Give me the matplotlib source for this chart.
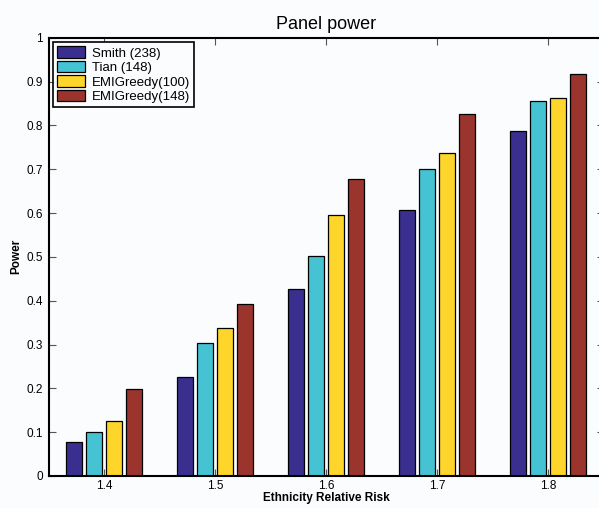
import numpy as np
import matplotlib.pyplot as plt

# MARK:- data
risk = [1.4, 1.5, 1.6, 1.7, 1.8]
smith = [0.077, 0.225, 0.426, 0.606, 0.786]
tian = [0.100, 0.303, 0.503, 0.700, 0.855]
emi100 = [0.125, 0.337, 0.596, 0.738, 0.862]
emi148 = [0.198, 0.392, 0.677, 0.826, 0.917]
labels = ["Smith (238)", "Tian (148)", "EMIGreedy(100)", "EMIGreedy(148)"]
colors = ["#3a2f8f", "#45c3d2", "#fed52b", "#9a342c"]

plt.rcParams['font.family'] = ['Liberation Sans', 'DejaVu Sans']
bg = "#fbfcfe"

# MARK:- plot
fig = plt.figure(figsize=(5.99, 5.08), dpi=100, facecolor=bg)
ax = fig.add_axes([48.5 / 599, 32 / 508, 555 / 599, 438.3 / 508])
ax.set_facecolor(bg)

x = np.array(risk)
step = 0.018
width = 0.015
for i, (vals, lab, c) in enumerate(zip([smith, tian, emi100, emi148], labels, colors)):
    ax.bar(x + (i - 1.5) * step, vals, width, color=c, edgecolor="black",
           linewidth=0.9, label=lab)

ax.set_xlim(1.35, 1.85)
ax.set_ylim(0, 1)
ax.set_xticks(risk)
ax.set_xticklabels([str(r) for r in risk])
ax.set_yticks(np.arange(0, 1.01, 0.1))
ax.set_yticklabels(["0"] + ["%.1f" % v for v in np.arange(0.1, 0.95, 0.1)] + ["1"])
ax.tick_params(direction="in", length=5, width=0.8, color="#555555",
               top=True, right=True, labelsize=8.5, pad=4)
ax.tick_params(axis="x", pad=3)
for s in ax.spines.values():
    s.set_linewidth(1.5)

ax.set_title("Panel power", fontsize=13, pad=6)
ax.set_xlabel("Ethnicity Relative Risk", fontsize=8.5, fontweight="bold", labelpad=0)
ax.set_ylabel("Power", fontsize=8.5, fontweight="bold", labelpad=3)

leg = ax.legend(loc="upper left", fontsize=9.5, frameon=True, fancybox=False,
                borderaxespad=0.35, handlelength=2.1, handleheight=0.95,
                labelspacing=0.1, borderpad=0.3, handletextpad=0.55)
leg.get_frame().set_edgecolor("black")
leg.get_frame().set_linewidth(1.2)
leg.get_frame().set_facecolor(bg)
leg.get_frame().set_alpha(1)

fig.savefig("out.png", dpi=100, facecolor=bg)
